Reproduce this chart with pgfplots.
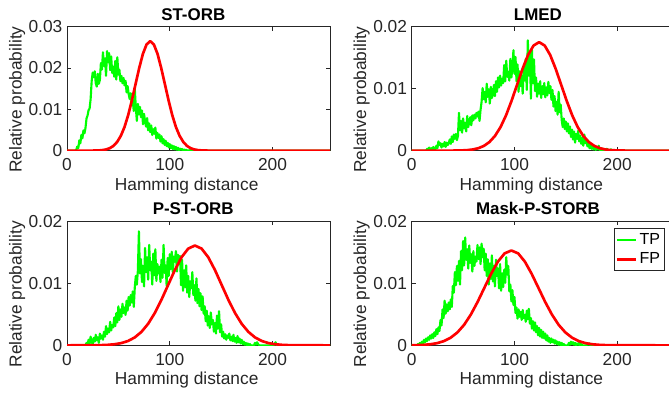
\documentclass[border=0pt]{standalone}
\usepackage{fontspec}
\setmainfont{Liberation Sans}
\usepackage{pgfplots}
\pgfplotsset{compat=1.18}
\definecolor{mgreen}{rgb}{0,1,0}
\definecolor{mred}{rgb}{1,0,0}
\definecolor{axgray}{gray}{0.15}
\pgfplotsset{
  mplot/.style={
    scale only axis, width=197.25pt, height=93pt,
    xmin=0, xmax=256, ymin=0,
    scaled y ticks=false, scaled x ticks=false,
    xtick={0,100,200}, xticklabels={0,100,200},
    axis line style={axgray, line width=0.5pt},
    every tick/.style={axgray, line width=0.5pt},
    major tick length=3pt,
    tick label style={font=\fontsize{13}{15}\selectfont, text=axgray},
    xticklabel style={yshift=-2.5pt},
    xlabel={Hamming distance}, ylabel={Relative probability},
    every axis x label/.style={at={(axis description cs:0.455,0)}, anchor=base, yshift=-29.5pt, font=\fontsize{13}{15}\selectfont, text=axgray},
    every axis y label/.style={at={(axis description cs:-0.19,0.412)}, anchor=center, rotate=90, font=\fontsize{13}{15}\selectfont, text=axgray},
    every axis title shift=0pt,
    title style={font=\bfseries\fontsize{12.7}{15}\selectfont, at={(axis description cs:0.48,1)}, anchor=base, yshift=5pt},
  },
  tp/.style={mgreen, line width=1.6pt, line join=round},
  fp/.style={mred, line width=2pt, line join=round},
}
\begin{document}
\begin{tikzpicture}
\path[use as bounding box] (0,0) rectangle (501.75pt,295.5pt);
% ---------------- ST-ORB
\begin{axis}[mplot, at={(50.25pt,182.5pt)}, anchor=south west, title={ST-ORB},
  ymax=0.03, ytick={0,0.01,0.02,0.03}, yticklabels={0,0.01,0.02,0.03}]
\addplot[tp] coordinates {(0,0)(8,0)(9,0.0002)(10,0.001)(11,0.0006)(12,0.0025)(13,0.0018)(14,0.0038)(15,0.003)(16,0.0049)(17,0.0042)(18,0.0055)(19,0.0078)(20,0.0085)(21,0.0098)(22,0.0102)(23,0.0125)(24,0.0168)(25,0.0189)(26,0.0178)(27,0.0192)(28,0.0163)(29,0.0155)(30,0.0186)(31,0.0162)(32,0.0171)(33,0.0212)(34,0.0196)(35,0.0238)(36,0.0205)(37,0.0223)(38,0.0181)(39,0.0241)(40,0.0214)(41,0.0236)(42,0.0195)(43,0.0228)(44,0.0188)(45,0.0203)(46,0.0179)(47,0.0217)(48,0.0172)(49,0.0226)(50,0.0184)(51,0.0196)(52,0.0168)(53,0.0181)(54,0.0163)(55,0.0176)(56,0.0158)(57,0.0169)(58,0.0141)(59,0.0156)(60,0.0137)(61,0.0125)(62,0.0139)(63,0.0112)(64,0.0121)(65,0.0096)(66,0.0149)(67,0.0104)(68,0.0072)(69,0.0113)(70,0.0088)(71,0.0106)(72,0.0081)(73,0.0097)(74,0.0064)(75,0.0089)(76,0.0071)(77,0.0058)(78,0.0079)(79,0.0049)(80,0.0066)(81,0.0045)(82,0.0061)(83,0.0038)(84,0.0052)(85,0.0041)(86,0.0056)(87,0.0029)(88,0.0043)(89,0.0031)(90,0.0039)(91,0.0022)(92,0.0035)(93,0.0018)(94,0.0028)(95,0.0014)(96,0.0024)(97,0.0011)(98,0.0019)(99,0.0008)(100,0.0016)(101,0.0006)(102,0.0013)(103,0.0004)(104,0.0011)(105,0.0003)(106,0.0009)(107,0.0002)(108,0.0007)(109,0.0001)(110,0.0005)(111,0.0002)(112,0.0004)(113,0)(114,0.0003)(115,0.0001)(116,0.0002)(117,0)(118,0.0001)(119,0)(120,0.0002)(121,0)(122,0.0001)(123,0)(124,0.0003)(125,0)(256,0)};
\addplot[fp] coordinates {(0,0)(16.65,0.0000011)(23.8,0.0000089)(30.95,0.0000583)(34.5,0.000135)(38.1,0.000294)(41.7,0.000604)(45.25,0.00116)(48.8,0.00211)(52.4,0.00359)(56,0.00573)(59.55,0.0086)(63.1,0.01213)(66.7,0.01607)(70.3,0.02)(73.85,0.02339)(77.4,0.02568)(81,0.0265)(84.6,0.02568)(88.15,0.02339)(91.7,0.02)(95.3,0.01607)(98.9,0.01213)(102.45,0.0086)(106,0.00573)(109.6,0.00359)(113.2,0.00211)(116.75,0.00116)(120.3,0.000604)(123.9,0.000294)(127.5,0.000135)(131.05,0.0000583)(138.2,0.0000089)(145.35,0.0000011)(256,0)};
\end{axis}
% ---------------- LMED
\begin{axis}[mplot, at={(308.8pt,182.5pt)}, anchor=south west, title={LMED},
  ymax=0.02, ytick={0,0.01,0.02}, yticklabels={0,0.01,0.02}]
\addplot[tp] coordinates {(0,0)(14,0)(15,0.0003)(16,0.0001)(17,0.0005)(18,0.0002)(19,0.0004)(20,0.0001)(21,0.0006)(22,0.0003)(23,0.0002)(24,0.0008)(25,0.0004)(26,0.0015)(27,0.0009)(28,0.0012)(29,0.0005)(30,0.0011)(31,0.0007)(32,0.0014)(33,0.0006)(34,0.0013)(35,0.0009)(36,0.0012)(37,0.0018)(38,0.0011)(39,0.0023)(40,0.0014)(41,0.0026)(42,0.0019)(43,0.0027)(44,0.0017)(45,0.0024)(46,0.0061)(47,0.0033)(48,0.0048)(49,0.0029)(50,0.0052)(51,0.0036)(52,0.0045)(53,0.0031)(54,0.0056)(55,0.0038)(56,0.0047)(57,0.0054)(58,0.0041)(59,0.0057)(60,0.0049)(61,0.0058)(62,0.0052)(63,0.0061)(64,0.0055)(65,0.0063)(66,0.0048)(67,0.0066)(68,0.0079)(69,0.0101)(70,0.0083)(71,0.0095)(72,0.0078)(73,0.0108)(74,0.0087)(75,0.0099)(76,0.0076)(77,0.0103)(78,0.0085)(79,0.0091)(80,0.0106)(81,0.0088)(82,0.0112)(83,0.0095)(84,0.0118)(85,0.0102)(86,0.0121)(87,0.0105)(88,0.0116)(89,0.0109)(90,0.0138)(91,0.0112)(92,0.0145)(93,0.0119)(94,0.0127)(95,0.0113)(96,0.0148)(97,0.0118)(98,0.0134)(99,0.0162)(100,0.0124)(101,0.0151)(102,0.0112)(103,0.0139)(104,0.0095)(105,0.0128)(106,0.0104)(107,0.0121)(108,0.0092)(109,0.0135)(110,0.0113)(111,0.0148)(112,0.0098)(113,0.0178)(114,0.0121)(115,0.0157)(116,0.0084)(117,0.0162)(118,0.0109)(119,0.0147)(120,0.0096)(121,0.0118)(122,0.0087)(123,0.0108)(124,0.0092)(125,0.0112)(126,0.0085)(127,0.0104)(128,0.0091)(129,0.0109)(130,0.0086)(131,0.0102)(132,0.0089)(133,0.0111)(134,0.0093)(135,0.0104)(136,0.0082)(137,0.0098)(138,0.0071)(139,0.0088)(140,0.0064)(141,0.0079)(142,0.0058)(143,0.0095)(144,0.0062)(145,0.0074)(146,0.0049)(147,0.0038)(148,0.0052)(149,0.0035)(150,0.0047)(151,0.0031)(152,0.0044)(153,0.0028)(154,0.0039)(155,0.0022)(156,0.0034)(157,0.0018)(158,0.0031)(159,0.0013)(160,0.0027)(161,0.0019)(162,0.0032)(163,0.0015)(164,0.0024)(165,0.0011)(166,0.0021)(167,0.0008)(168,0.0026)(169,0.0012)(170,0.0019)(171,0.0007)(172,0.0015)(173,0.0004)(174,0.0011)(175,0.0003)(176,0.0009)(177,0.0002)(178,0.0007)(179,0.0001)(180,0.0005)(181,0.0002)(182,0.0008)(183,0.0001)(184,0.0004)(185,0)(186,0.0003)(187,0.0001)(188,0.0002)(189,0)(190,0.0003)(191,0)(192,0.0001)(193,0)(194,0.0002)(195,0)(256,0)};
\addplot[fp] coordinates {(0,0)(27.25,0.0000007)(38,0.0000059)(48.75,0.0000385)(54.1,0.0000893)(59.5,0.000194)(64.9,0.000399)(70.25,0.000768)(75.6,0.00139)(81,0.00237)(86.4,0.00379)(91.75,0.00568)(97.1,0.00801)(102.5,0.01061)(107.9,0.01321)(113.25,0.01544)(118.6,0.01696)(124,0.0175)(129.4,0.01696)(134.75,0.01544)(140.1,0.01321)(145.5,0.01061)(150.9,0.00801)(156.25,0.00568)(161.6,0.00379)(167,0.00237)(172.4,0.00139)(177.75,0.000768)(183.1,0.000399)(188.5,0.000194)(193.9,0.0000893)(199.25,0.0000385)(210,0.0000059)(220.75,0.0000007)(256,0)};
\end{axis}
% ---------------- P-ST-ORB
\begin{axis}[mplot, at={(50.25pt,36.5pt)}, anchor=south west, title={P-ST-ORB},
  ymax=0.02, ytick={0,0.01,0.02}, yticklabels={0,0.01,0.02}]
\addplot[tp] coordinates {(0,0)(18,0)(19,0.0004)(20,0.0001)(21,0.0009)(22,0.0003)(23,0.0014)(24,0.0005)(25,0.0002)(26,0.0012)(27,0.0006)(28,0.0017)(29,0.0008)(30,0.0013)(31,0.0004)(32,0.0019)(33,0.0011)(34,0.0016)(35,0.0009)(36,0.0022)(37,0.0014)(38,0.0031)(39,0.0018)(40,0.0027)(41,0.0021)(42,0.0038)(43,0.0024)(44,0.0033)(45,0.0029)(46,0.0045)(47,0.0031)(48,0.0052)(49,0.0037)(50,0.0063)(51,0.0041)(52,0.0058)(53,0.0046)(54,0.0067)(55,0.0052)(56,0.0061)(57,0.0049)(58,0.0072)(59,0.0056)(60,0.0078)(61,0.0064)(62,0.0081)(63,0.0069)(64,0.0087)(65,0.0062)(66,0.0094)(67,0.0112)(68,0.0098)(69,0.0121)(70,0.0184)(71,0.0116)(72,0.0139)(73,0.0102)(74,0.0128)(75,0.0095)(76,0.0157)(77,0.0118)(78,0.0142)(79,0.0106)(80,0.0162)(81,0.0121)(82,0.0135)(83,0.0098)(84,0.0148)(85,0.0113)(86,0.0155)(87,0.0104)(88,0.0131)(89,0.0116)(90,0.0127)(91,0.0102)(92,0.0138)(93,0.0109)(94,0.0162)(95,0.0117)(96,0.0129)(97,0.0096)(98,0.0141)(99,0.0112)(100,0.0147)(101,0.0123)(102,0.0151)(103,0.0118)(104,0.0143)(105,0.0135)(106,0.0152)(107,0.0119)(108,0.0146)(109,0.0131)(110,0.0144)(111,0.0097)(112,0.0138)(113,0.0088)(114,0.0121)(115,0.0094)(116,0.0129)(117,0.0085)(118,0.0112)(119,0.0078)(120,0.0103)(121,0.0092)(122,0.0118)(123,0.0081)(124,0.0097)(125,0.0072)(126,0.0108)(127,0.0068)(128,0.0091)(129,0.0063)(130,0.0084)(131,0.0057)(132,0.0079)(133,0.0051)(134,0.0063)(135,0.0039)(136,0.0056)(137,0.0032)(138,0.0047)(139,0.0028)(140,0.0053)(141,0.0034)(142,0.0041)(143,0.0022)(144,0.0036)(145,0.0019)(146,0.0048)(147,0.0027)(148,0.0055)(149,0.0021)(150,0.0034)(151,0.0014)(152,0.0022)(153,0.0011)(154,0.0018)(155,0.0009)(156,0.0016)(157,0.0012)(158,0.0019)(159,0.0008)(160,0.0014)(161,0.0007)(162,0.0017)(163,0.0006)(164,0.0012)(165,0.0004)(166,0.0015)(167,0.0005)(168,0.0011)(169,0.0003)(170,0.0009)(171,0.0002)(172,0.0006)(173,0.0001)(174,0.0004)(175,0)(176,0.0003)(177,0)(178,0.0002)(179,0)(182,0)(183,0.0004)(184,0.0001)(185,0.0005)(186,0.0002)(187,0)(201,0)(202,0.0002)(203,0.0005)(204,0.0001)(205,0)(256,0)};
\addplot[fp] coordinates {(0,0)(7.5,0.0000006)(20.5,0.0000054)(33.5,0.0000354)(40,0.0000821)(46.5,0.000179)(53,0.000367)(59.5,0.000707)(66,0.00128)(72.5,0.00218)(79,0.00348)(85.5,0.00523)(92,0.00737)(98.5,0.00976)(105,0.01215)(111.5,0.01421)(118,0.0156)(124.5,0.0161)(131,0.0156)(137.5,0.01421)(144,0.01215)(150.5,0.00976)(157,0.00737)(163.5,0.00523)(170,0.00348)(176.5,0.00218)(183,0.00128)(189.5,0.000707)(196,0.000367)(202.5,0.000179)(209,0.0000821)(215.5,0.0000354)(228.5,0.0000054)(241.5,0.0000006)(256,0)};
\end{axis}
% ---------------- Mask-P-STORB
\begin{axis}[mplot, at={(308.8pt,36.5pt)}, anchor=south west, title={Mask-P-STORB},
  ymax=0.02, ytick={0,0.01,0.02}, yticklabels={0,0.01,0.02},
  legend style={at={(axis description cs:0.963,0.944)}, anchor=north east, draw=axgray, line width=0.5pt,
    font=\fontsize{12}{14}\selectfont, text=black, cells={anchor=west}, inner sep=1.5pt, row sep=1pt},
  legend image code/.code={\draw[#1] (0cm,0cm) -- (0.48cm,0cm);}]
\addplot[tp] coordinates {(0,0)(5,0)(6,0.0002)(7,0)(8,0.0004)(9,0.0001)(10,0.0006)(11,0.0003)(12,0.0009)(13,0.0005)(14,0.0011)(15,0.0007)(16,0.0013)(17,0.0009)(18,0.0016)(19,0.0011)(20,0.0018)(21,0.0012)(22,0.0021)(23,0.0015)(24,0.0026)(25,0.0018)(26,0.0029)(27,0.0023)(28,0.0041)(29,0.0032)(30,0.0058)(31,0.0044)(32,0.0072)(33,0.0051)(34,0.0066)(35,0.0055)(36,0.0069)(37,0.0058)(38,0.0074)(39,0.0062)(40,0.0096)(41,0.0085)(42,0.0118)(43,0.0097)(44,0.0128)(45,0.0104)(46,0.0136)(47,0.0098)(48,0.0152)(49,0.0121)(50,0.0168)(51,0.0129)(52,0.0174)(53,0.0138)(54,0.0155)(55,0.0124)(56,0.0161)(57,0.0133)(58,0.0147)(59,0.0119)(60,0.0152)(61,0.0128)(62,0.0143)(63,0.0135)(64,0.0162)(65,0.0139)(66,0.0158)(67,0.0131)(68,0.0164)(69,0.0142)(70,0.0156)(71,0.0121)(72,0.0148)(73,0.0112)(74,0.0139)(75,0.0098)(76,0.0132)(77,0.0107)(78,0.0145)(79,0.0103)(80,0.0128)(81,0.0095)(82,0.0138)(83,0.0112)(84,0.0124)(85,0.0092)(86,0.0131)(87,0.0088)(88,0.0116)(89,0.0094)(90,0.0122)(91,0.0101)(92,0.0142)(93,0.0114)(94,0.0128)(95,0.0087)(96,0.0098)(97,0.0071)(98,0.0089)(99,0.0065)(100,0.0078)(101,0.0052)(102,0.0061)(103,0.0043)(104,0.0058)(105,0.0046)(106,0.0054)(107,0.0041)(108,0.0057)(109,0.0044)(110,0.0049)(111,0.0038)(112,0.0056)(113,0.0042)(114,0.0059)(115,0.0035)(116,0.0044)(117,0.0027)(118,0.0039)(119,0.0024)(120,0.0037)(121,0.0021)(122,0.0031)(123,0.0016)(124,0.0028)(125,0.0014)(126,0.0025)(127,0.0012)(128,0.0022)(129,0.0011)(130,0.0019)(131,0.0008)(132,0.0016)(133,0.0006)(134,0.0012)(135,0.0004)(136,0.0011)(137,0.0005)(138,0.0009)(139,0.0003)(140,0.0008)(141,0.0002)(142,0.0006)(143,0.0001)(144,0.0005)(145,0)(146,0.0004)(147,0)(148,0.0002)(149,0)(152,0)(153,0.0004)(154,0.0001)(155,0.0006)(156,0.0002)(157,0.0005)(158,0.0001)(159,0.0004)(160,0)(161,0.0003)(162,0.0001)(163,0.0004)(164,0)(165,0.0002)(166,0)(170,0)(171,0.0002)(172,0.0001)(173,0.0003)(174,0)(176,0)(177,0.0002)(178,0)(256,0)};
\addlegendentry{TP}
\addplot[fp] coordinates {(0,0.000015)(4.95,0.0000337)(11.5,0.000078)(18.1,0.00017)(24.7,0.000349)(31.1,0.000672)(37.8,0.00122)(44.4,0.00207)(51,0.00331)(57.55,0.00497)(64.1,0.007)(70.7,0.00928)(77.3,0.01155)(83.85,0.0135)(90.4,0.01483)(97,0.0153)(103.6,0.01483)(110.15,0.0135)(116.7,0.01155)(123.3,0.00928)(129.9,0.007)(136.45,0.00497)(143,0.00331)(149.6,0.00207)(156.2,0.00122)(162.75,0.000672)(169.3,0.000349)(175.9,0.00017)(182.5,0.000078)(189.05,0.0000337)(202.2,0.0000051)(215.35,0.0000006)(256,0)};
\addlegendentry{FP}
\end{axis}
\end{tikzpicture}
\end{document}
